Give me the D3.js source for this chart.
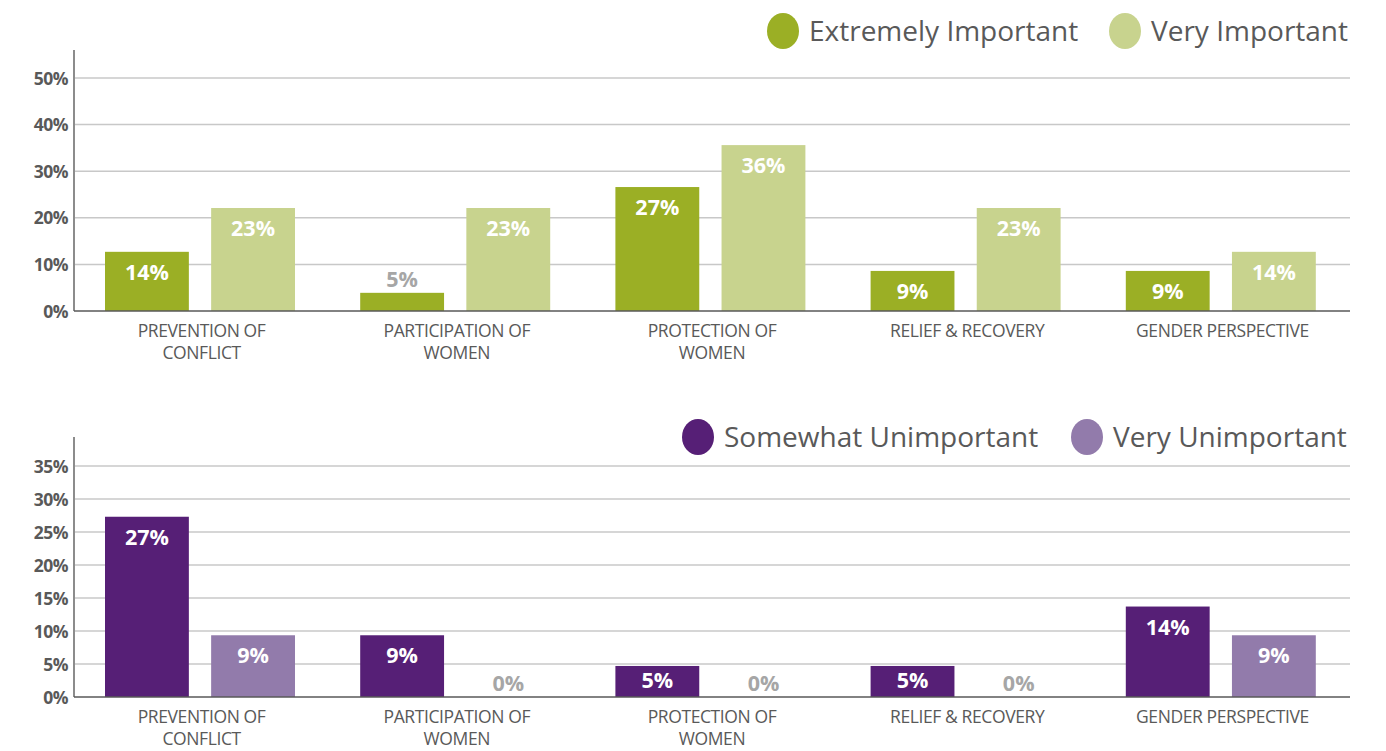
<!DOCTYPE html>
<html>
<head>
<meta charset="utf-8">
<script src="https://cdn.jsdelivr.net/npm/d3@7"></script>
<style>
  html, body { margin: 0; padding: 0; background: #ffffff; }
  svg { display: block; font-family: "Open Sans", "Noto Sans", sans-serif; }
</style>
</head>
<body>
<svg id="chart" width="1386" height="751"></svg>
<script>
// ---- data ----
const categories = ["PREVENTION OF|CONFLICT", "PARTICIPATION OF|WOMEN", "PROTECTION OF|WOMEN", "RELIEF & RECOVERY", "GENDER PERSPECTIVE"];

const importantSeries = ["Extremely Important", "Very Important"];
const extremelyImportant = [12.7, 3.9, 26.6, 8.6, 8.6];
const veryImportant = [22.1, 22.1, 35.6, 22.1, 12.7];
const extremelyImportantLabels = ["14%", "5%", "27%", "9%", "9%"];
const veryImportantLabels = ["23%", "23%", "36%", "23%", "14%"];
const topTicks = [0, 10, 20, 30, 40, 50];

const unimportantSeries = ["Somewhat Unimportant", "Very Unimportant"];
const somewhatUnimportant = [27.3, 9.35, 4.7, 4.7, 13.7];
const veryUnimportant = [9.35, 0, 0, 0, 9.35];
const somewhatUnimportantLabels = ["27%", "9%", "5%", "5%", "14%"];
const veryUnimportantLabels = ["9%", "0%", "0%", "0%", "9%"];
const bottomTicks = [0, 5, 10, 15, 20, 25, 30, 35];

const greenColors = ["#9baf25", "#c8d38e"];
const purpleColors = ["#561f76", "#927bab"];

const svg = d3.select("#chart");

function drawPanel(opts) {
  const g = svg.append("g");
  const x0 = d3.scaleBand().domain(categories).range([74, 1350]).paddingInner(0).paddingOuter(0);
  const x1 = d3.scaleBand().domain([0, 1]).range([31, 221]).paddingInner(0.21).paddingOuter(0);
  const y = d3.scaleLinear().domain([0, opts.yMax]).range([opts.y0, opts.yTop]);

  // gridlines
  g.selectAll("line.grid").data(opts.ticks.filter(t => t > 0)).enter().append("line")
    .attr("x1", 74).attr("x2", 1350)
    .attr("y1", d => y(d)).attr("y2", d => y(d))
    .attr("stroke", "#c8c8c8").attr("stroke-width", 1.5);

  // y axis
  const yAxis = d3.axisLeft(y).tickValues(opts.ticks).tickFormat(d => d + "%").tickSize(0).tickPadding(6);
  const ya = g.append("g").attr("transform", "translate(74,0)").call(yAxis);
  ya.select(".domain").remove();
  ya.selectAll("text").attr("fill", "#595959").style("font-size", "17.5px").style("font-weight", "700")
    .style("font-family", "'Open Sans', sans-serif").style("letter-spacing", "-0.5px").attr("dy", "0.35em");
  g.append("line").attr("x1", 74).attr("x2", 74).attr("y1", opts.axisTop).attr("y2", opts.y0)
    .attr("stroke", "#8c8c8c").attr("stroke-width", 2);

  // bars
  const rows = categories.map((c, i) => ({ c, vals: [opts.s1[i], opts.s2[i]], labs: [opts.l1[i], opts.l2[i]] }));
  const grp = g.selectAll("g.cat").data(rows).enter().append("g")
    .attr("transform", d => `translate(${x0(d.c)},0)`);
  grp.selectAll("rect").data(d => d.vals.map((v, k) => ({ v, k }))).enter().append("rect")
    .attr("x", d => x1(d.k)).attr("width", x1.bandwidth())
    .attr("y", d => y(d.v)).attr("height", d => opts.y0 - y(d.v))
    .attr("fill", d => opts.colors[d.k]);

  // baseline
  g.append("line").attr("x1", 74).attr("x2", 1350).attr("y1", opts.y0).attr("y2", opts.y0)
    .attr("stroke", "#595959").attr("stroke-width", 1.5);

  // value labels
  grp.selectAll("text.val").data(d => d.vals.map((v, k) => ({ v, k, lab: d.labs[k] }))).enter().append("text")
    .attr("x", d => x1(d.k) + x1.bandwidth() / 2)
    .attr("y", d => {
      const h = opts.y0 - y(d.v);
      return h > 24 ? y(d.v) + Math.min(28, h - 9) : y(d.v) - 6;
    })
    .attr("text-anchor", "middle")
    .style("font-size", "21.5px").style("font-weight", "700")
    .attr("fill", d => (opts.y0 - y(d.v)) > 24 ? "#ffffff" : "#a6a6a6")
    .text(d => d.lab);

  // category labels
  grp.each(function(d) {
    const lines = d.c.split("|");
    const t = d3.select(this).append("text")
      .attr("x", x0.bandwidth() / 2).attr("y", opts.y0 + 26)
      .attr("text-anchor", "middle").attr("fill", "#595959")
      .style("font-size", "17.5px").style("letter-spacing", "-0.4px");
    lines.forEach((ln, i) => t.append("tspan").attr("x", x0.bandwidth() / 2).attr("dy", i === 0 ? 0 : 22).text(ln));
  });

  // legend
  const lg = g.append("g");
  opts.series.forEach((s, k) => {
    lg.append("ellipse").attr("cx", opts.legendX[k]).attr("cy", opts.legendY)
      .attr("rx", 16).attr("ry", 18).attr("fill", opts.colors[k]);
    lg.append("text").attr("x", opts.legendX[k] + 26).attr("y", opts.legendY + 10)
      .attr("fill", "#595959").style("font-size", "28px").text(s);
  });
}

drawPanel({
  y0: 311, yTop: 78, yMax: 50, axisTop: 50, ticks: topTicks,
  s1: extremelyImportant, s2: veryImportant, l1: extremelyImportantLabels, l2: veryImportantLabels,
  colors: greenColors, series: importantSeries, legendX: [783, 1125], legendY: 31
});

drawPanel({
  y0: 697, yTop: 465.9, yMax: 35, axisTop: 437, ticks: bottomTicks,
  s1: somewhatUnimportant, s2: veryUnimportant, l1: somewhatUnimportantLabels, l2: veryUnimportantLabels,
  colors: purpleColors, series: unimportantSeries, legendX: [698, 1087], legendY: 437
});
</script>
</body>
</html>
